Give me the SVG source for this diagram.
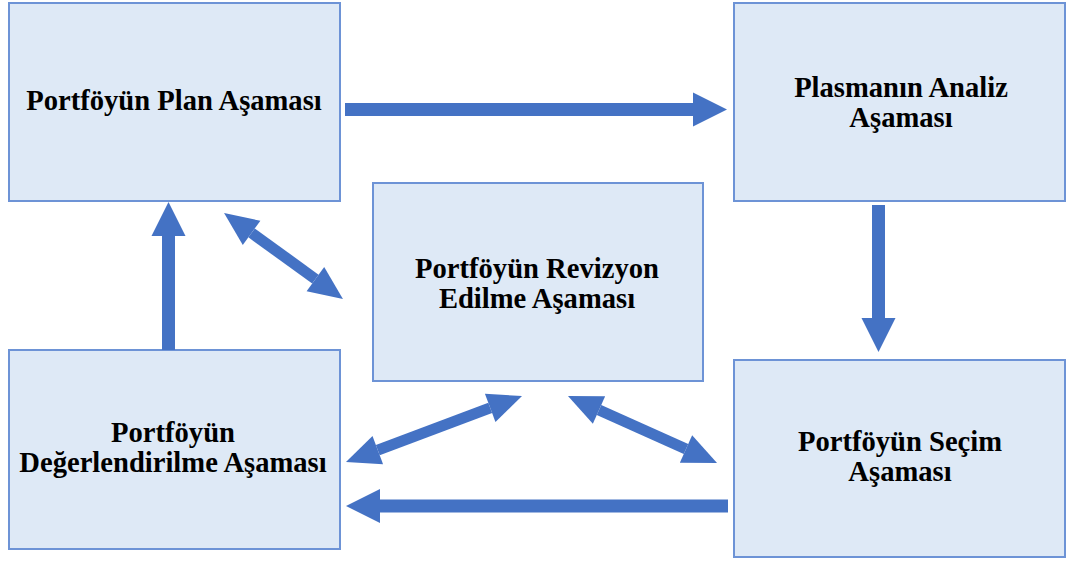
<svg xmlns="http://www.w3.org/2000/svg" width="1069" height="561" viewBox="0 0 1069 561">
<style>
.box{fill:#DEE9F6;stroke:#6D93D6;stroke-width:2}
.t{font-family:"Liberation Serif","Times New Roman",serif;font-weight:bold;font-size:28.6px;fill:#000;text-anchor:middle}
.a{stroke:#4472C4;stroke-width:13;fill:none}
.d{stroke:#4472C4;stroke-width:11;fill:none}
</style>
<defs>
<marker id="h" markerUnits="userSpaceOnUse" markerWidth="34" markerHeight="34" refX="0" refY="17" orient="auto-start-reverse" overflow="visible"><path d="M0,0 L34,17 L0,34 z" fill="#4472C4"/></marker>
<marker id="hd" markerUnits="userSpaceOnUse" markerWidth="34" markerHeight="30" refX="0" refY="15" orient="auto-start-reverse" overflow="visible"><path d="M0,0 L34,15 L0,30 z" fill="#4472C4"/></marker>
</defs>
<rect width="1069" height="561" fill="#fff"/>
<g id="plan"><rect class="box" x="9" y="3" width="331" height="198"/><text class="t" x="174" y="110">Portföyün Plan Aşaması</text></g>
<g id="analiz"><rect class="box" x="734" y="3" width="331" height="198"/><text class="t" x="901" y="97">Plasmanın Analiz</text><text class="t" x="901" y="127">Aşaması</text></g>
<g id="revizyon"><rect class="box" x="373" y="183" width="330" height="198"/><text class="t" x="537" y="278">Portföyün Revizyon</text><text class="t" x="537" y="308">Edilme Aşaması</text></g>
<g id="degerlendirme"><rect class="box" x="9" y="350" width="331" height="199"/><text class="t" x="173" y="442">Portföyün</text><text class="t" x="173" y="472">Değerlendirilme Aşaması</text></g>
<g id="secim"><rect class="box" x="734" y="360" width="331" height="197"/><text class="t" x="900" y="451">Portföyün Seçim</text><text class="t" x="900" y="481">Aşaması</text></g>
<g id="connectors">
<line class="a" x1="345" y1="109.5" x2="693" y2="109.5" marker-end="url(#h)"/>
<line class="a" x1="878.5" y1="205" x2="878.5" y2="318" marker-end="url(#h)"/>
<line class="a" x1="168.5" y1="350" x2="168.5" y2="236" marker-end="url(#h)"/>
<line class="a" x1="728" y1="506" x2="380" y2="506" marker-end="url(#h)"/>
<line class="d" x1="251.6" y1="232.9" x2="315.4" y2="279.1" marker-start="url(#hd)" marker-end="url(#hd)"/>
<line class="d" x1="377.8" y1="450.1" x2="490.2" y2="407.9" marker-start="url(#hd)" marker-end="url(#hd)"/>
<line class="d" x1="599" y1="410" x2="686" y2="449" marker-start="url(#hd)" marker-end="url(#hd)"/>
</g>
</svg>
